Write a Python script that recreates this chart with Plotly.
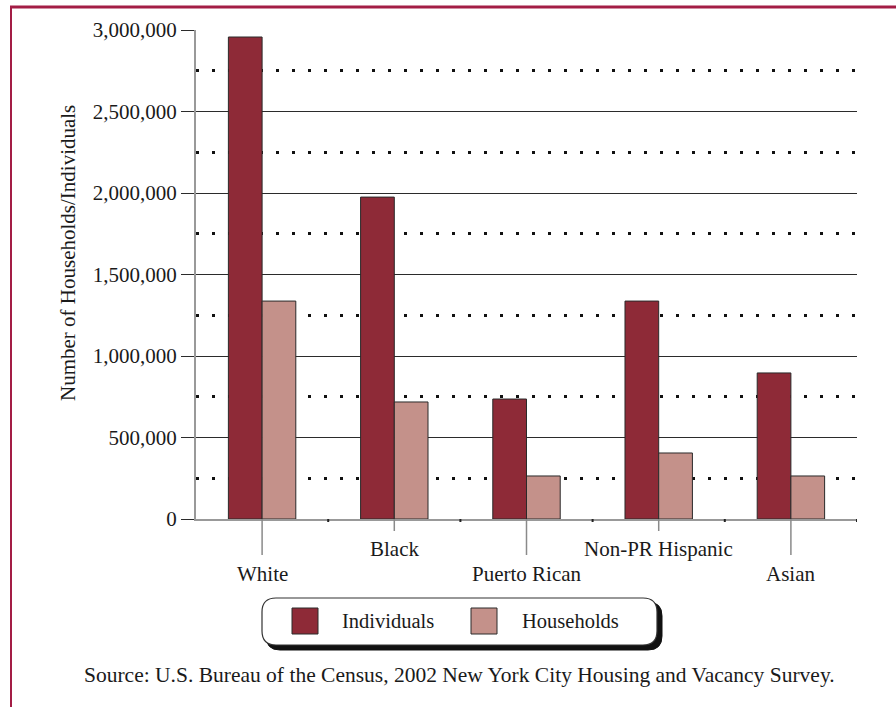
import plotly.graph_objects as go

categories = ["White", "Black", "Puerto Rican", "Non-PR Hispanic", "Asian"]
individuals = [2957000, 1975000, 736000, 1337000, 896000]
households = [1337000, 718000, 264000, 405000, 264000]
y_ticks = [0, 500000, 1000000, 1500000, 2000000, 2500000, 3000000]
y_tick_labels = ["0", "500,000", "1,000,000", "1,500,000", "2,000,000", "2,500,000", "3,000,000"]
series_names = ["Individuals", "Households"]
source_text = "Source: U.S. Bureau of the Census, 2002 New York City Housing and Vacancy Survey."
y_title = "Number of Households/Individuals"

W, H = 896, 707
L, R, T, B = 196, 857, 30, 519
FONT = "Liberation Serif, Times New Roman, serif"
C_IND = "#8E2A37"
C_HH = "#C4918A"
FRAME = "#A31D45"


def px(x):
    return (x - L) / (R - L)


def py(y):
    return (B - y) / (B - T)


xs = list(range(len(categories)))
fig = go.Figure()
fig.add_trace(go.Bar(x=xs, y=individuals, name=series_names[0], marker=dict(color=C_IND, line=dict(color="#2a2a2a", width=1))))
fig.add_trace(go.Bar(x=xs, y=households, name=series_names[1], marker=dict(color=C_HH, line=dict(color="#2a2a2a", width=1))))

shapes = []
annotations = []

# category tick lines and labels
for i, c in enumerate(categories):
    low = (i % 2 == 0)
    shapes.append(dict(type="line", xref="x", yref="paper", x0=i, x1=i, y0=py(B), y1=py(555 if low else 531),
                       line=dict(color="#8a8a8a", width=1.5), layer="above"))
    annotations.append(dict(xref="x", yref="paper", x=i, y=py(574 if low else 549), text=c, showarrow=False,
                            xanchor="center", yanchor="middle", font=dict(family=FONT, size=21, color="#1a1a1a")))
    shapes.append(dict(type="line", xref="x", yref="paper", x0=i + 0.5, x1=i + 0.5, y0=py(B), y1=py(522),
                       line=dict(color="#222", width=2), layer="above"))

# y title
annotations.append(dict(xref="paper", yref="paper", x=px(68), y=py(253), text=y_title, showarrow=False, textangle=-90,
                        xanchor="center", yanchor="middle", font=dict(family=FONT, size=21, color="#1a1a1a")))

# legend box with shadow
def rrect(x0, y0, x1, y1, r):
    rx = r / (R - L)
    ry = r / (B - T)
    X0, X1 = px(x0), px(x1)
    Y0, Y1 = py(y0), py(y1)
    return (f"M {X0+rx},{Y0} L {X1-rx},{Y0} Q {X1},{Y0} {X1},{Y0-ry} L {X1},{Y1+ry} Q {X1},{Y1} {X1-rx},{Y1} "
            f"L {X0+rx},{Y1} Q {X0},{Y1} {X0},{Y1+ry} L {X0},{Y0-ry} Q {X0},{Y0} {X0+rx},{Y0} Z")

shapes.append(dict(type="path", xref="paper", yref="paper", path=rrect(266, 602, 662, 650, 14),
                   fillcolor="#111", line=dict(color="#111", width=1), layer="above"))
shapes.append(dict(type="path", xref="paper", yref="paper", path=rrect(262, 598, 657, 645, 14),
                   fillcolor="white", line=dict(color="#333", width=1.2), layer="above"))
for (x0, col, tx, name) in [(292, C_IND, 340, series_names[0]), (471, C_HH, 520, series_names[1])]:
    shapes.append(dict(type="rect", xref="paper", yref="paper", x0=px(x0), x1=px(x0 + 26), y0=py(608), y1=py(634),
                       fillcolor=col, line=dict(color="#2a2a2a", width=1), layer="above"))
    annotations.append(dict(xref="paper", yref="paper", x=px(tx), y=py(621), text=name, showarrow=False,
                            xanchor="left", yanchor="middle", font=dict(family=FONT, size=20.5, color="#1a1a1a")))

# source
annotations.append(dict(xref="paper", yref="paper", x=px(459), y=py(675), text=source_text, showarrow=False,
                        xanchor="center", yanchor="middle", font=dict(family=FONT, size=21.5, color="#1a1a1a")))

# frame lines
shapes.append(dict(type="line", xref="paper", yref="paper", x0=px(10), x1=px(896), y0=py(7), y1=py(7),
                   line=dict(color=FRAME, width=3), layer="above"))
shapes.append(dict(type="line", xref="paper", yref="paper", x0=px(11), x1=px(11), y0=py(6), y1=py(707),
                   line=dict(color=FRAME, width=2), layer="above"))

fig.update_layout(
    width=W, height=H,
    margin=dict(l=L, r=W - R, t=T, b=H - B, autoexpand=False),
    paper_bgcolor="white", plot_bgcolor="white",
    barmode="group", bargap=0.49, bargroupgap=0,
    showlegend=False,
    shapes=shapes, annotations=annotations,
    xaxis=dict(range=[-0.5, len(categories) - 0.5], showticklabels=False, ticks="", showgrid=False, zeroline=False,
               showline=True, linecolor="#999", linewidth=2, fixedrange=True),
    yaxis=dict(range=[0, 3000000], tickvals=y_ticks, ticktext=y_tick_labels, showgrid=True, gridcolor="#2b2b2b",
               gridwidth=1.3, zeroline=False, showline=True, linecolor="#999", linewidth=2,
               ticks="outside", ticklen=13, tickcolor="#2b2b2b", tickwidth=1.3,
               tickfont=dict(family=FONT, size=21, color="#1a1a1a"),
               minor=dict(tickvals=[250000, 750000, 1250000, 1750000, 2250000, 2750000], showgrid=True,
                          gridcolor="#111", gridwidth=2.5, griddash="3px,13px", ticks=""),
               fixedrange=True),
)

fig.write_html("out.html")
